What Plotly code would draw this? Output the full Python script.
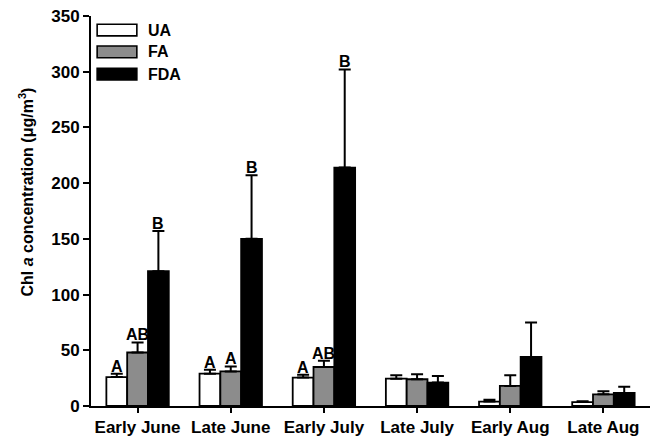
import plotly.graph_objects as go

# Sampling periods and treatment groups
periods = ["Early June", "Late June", "Early July", "Late July", "Early Aug", "Late Aug"]
groups = ["UA", "FA", "FDA"]
colors = ["#ffffff", "#8c8c8c", "#000000"]

# Mean Chl a concentration (µg/m3) per treatment
ua_mean = [26, 29, 25.5, 24.5, 4, 3.5]
fa_mean = [48, 31, 35, 24, 18, 10.5]
fda_mean = [121, 150, 214, 21, 44, 11.7]

# Upper error (SE) per treatment
ua_err = [3, 3.5, 2.5, 3, 1.5, 0.8]
fa_err = [9, 4.5, 5.5, 4.5, 9.5, 2.8]
fda_err = [36, 57, 88, 6, 31, 5.6]

# Significance letters above each bar ("" = none)
ua_letters = ["A", "A", "A", "", "", ""]
fa_letters = ["AB", "A", "AB", "", "", ""]
fda_letters = ["B", "B", "B", "", "", ""]

means = [ua_mean, fa_mean, fda_mean]
errs = [ua_err, fa_err, fda_err]
letters = [ua_letters, fa_letters, fda_letters]

FONT = "Liberation Sans, Arial, sans-serif"
BARGAP = 0.33
bar_w = (1 - BARGAP) / len(groups)
xs = list(range(len(periods)))

fig = go.Figure()
for g, name in enumerate(groups):
    fig.add_trace(go.Bar(
        x=xs, y=means[g], name=name,
        marker=dict(color=colors[g], line=dict(color="black", width=1.8)),
        error_y=dict(type="data", array=errs[g], arrayminus=[0] * len(xs),
                     symmetric=False, color="black", thickness=2, width=6),
        showlegend=False,
    ))

# Letters sitting on the error-bar caps
annotations = []
for g in range(len(groups)):
    for i, lab in enumerate(letters[g]):
        if not lab:
            continue
        annotations.append(dict(
            x=i + (g - 1) * bar_w, y=means[g][i] + errs[g][i],
            xref="x", yref="y", text=f"<b>{lab}</b>", showarrow=False,
            yanchor="bottom", yshift=-3,
            font=dict(family=FONT, size=16, color="black"),
        ))

# Legend keys drawn as boxes in the upper-left corner
shapes = []
key_y = [0.964, 0.908, 0.851]
for g, name in enumerate(groups):
    shapes.append(dict(type="rect", xref="paper", yref="paper",
                       x0=0.011, x1=0.082, y0=key_y[g] - 0.015, y1=key_y[g] + 0.015,
                       fillcolor=colors[g], line=dict(color="black", width=1.6)))
    annotations.append(dict(x=0.098, y=key_y[g], xref="paper", yref="paper",
                            text=f"<b>{name}</b>", showarrow=False,
                            xanchor="left", yanchor="middle",
                            font=dict(family=FONT, size=16, color="black")))

# Y-axis title
annotations.append(dict(
    x=-0.1145, y=0.55, xref="paper", yref="paper",
    text="<b>Chl <i>a</i> concentration (μg/m<sup>3</sup>)</b>",
    textangle=-90, showarrow=False, xanchor="center", yanchor="middle",
    font=dict(family=FONT, size=16, color="black"),
))

fig.update_layout(
    width=661, height=441,
    margin=dict(l=91, r=11, t=16, b=35),
    paper_bgcolor="white", plot_bgcolor="white",
    barmode="group", bargap=BARGAP, bargroupgap=0,
    font=dict(family=FONT, size=17, color="black"),
    annotations=annotations, shapes=shapes,
    xaxis=dict(
        range=[-0.5, len(periods) - 0.5], automargin=False,
        tickmode="array", tickvals=xs, ticktext=[f"<b>{p}</b>" for p in periods],
        showline=True, linecolor="black", linewidth=2,
        ticks="outside", ticklen=5, tickwidth=2, tickcolor="black",
        showgrid=False, zeroline=False,
        tickfont=dict(family=FONT, size=17),
    ),
    yaxis=dict(
        range=[0, 350], automargin=False,
        tickmode="array", tickvals=list(range(0, 351, 50)),
        ticktext=[f"<b>{v}</b>" for v in range(0, 351, 50)],
        showline=True, linecolor="black", linewidth=2,
        ticks="outside", ticklen=6, tickwidth=2, tickcolor="black",
        showgrid=False, zeroline=False,
        tickfont=dict(family=FONT, size=17),
    ),
)

fig.write_html("out.html")
